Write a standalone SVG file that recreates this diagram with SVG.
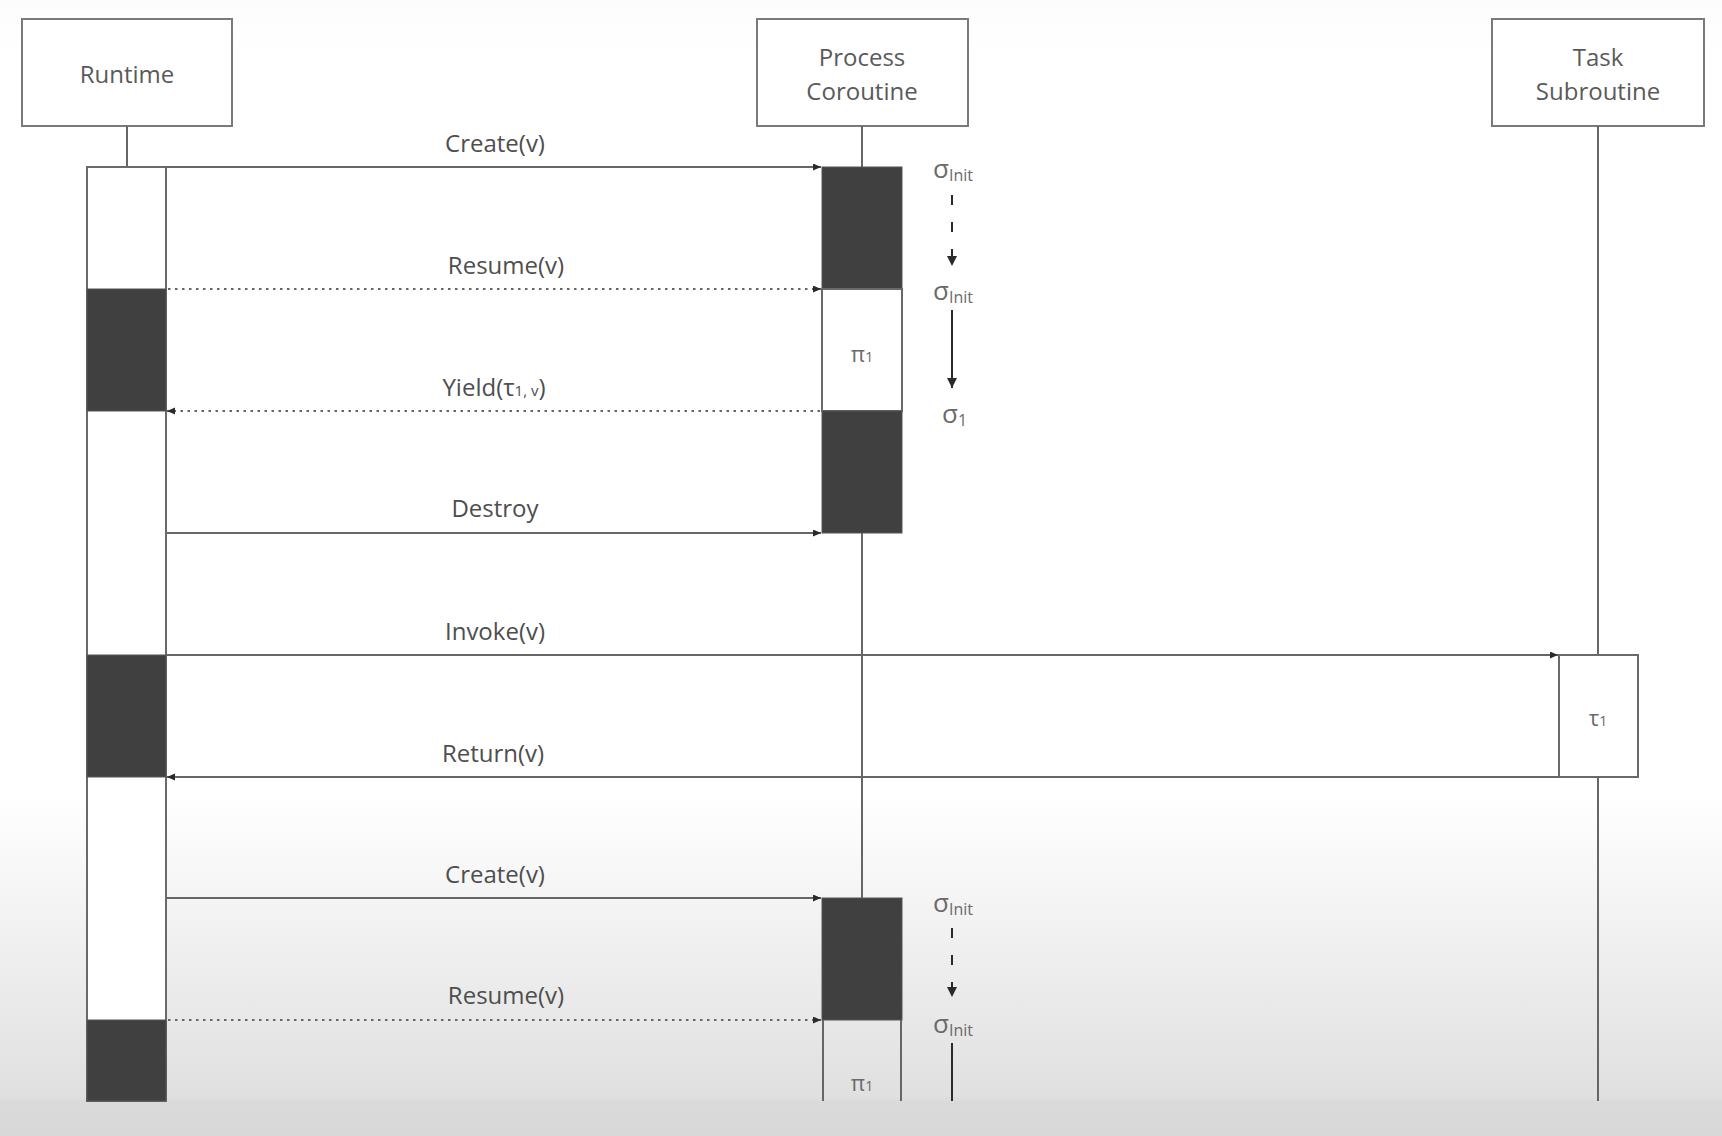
<svg xmlns="http://www.w3.org/2000/svg" width="1722" height="1136" viewBox="0 0 1722 1136">
<defs>
<linearGradient id="bg" x1="0" y1="0" x2="0" y2="1136" gradientUnits="userSpaceOnUse">
<stop offset="0" stop-color="#fcfcfc"/>
<stop offset="0.05" stop-color="#ffffff"/>
<stop offset="0.7" stop-color="#ffffff"/>
<stop offset="0.965" stop-color="#e0e0e0"/>
<stop offset="0.97" stop-color="#dadada"/>
<stop offset="1" stop-color="#d8d8d8"/>
</linearGradient>
<marker id="ah" markerWidth="9" markerHeight="8" refX="8" refY="3.5" orient="auto" markerUnits="userSpaceOnUse">
<path d="M0,0 L8,3.5 L0,7 z" fill="#2a2a2a"/>
</marker>
<marker id="ahs" markerWidth="12" markerHeight="10" refX="10" refY="5" orient="auto" markerUnits="userSpaceOnUse">
<path d="M0,0 L10,5 L0,10 z" fill="#2a2a2a"/>
</marker>
</defs>
<style>
.box{fill:#ffffff;stroke:#7a7a7a;stroke-width:2}
.life{stroke:#666;stroke-width:2;fill:none}
.act{fill:#ffffff;stroke:#6a6a6a;stroke-width:2}
.blk{fill:#404040;stroke:#555;stroke-width:1}
.hdr{font-family:"Open Sans","Noto Sans",sans-serif;font-size:24px;fill:#5a5a5a;text-anchor:middle}
.lbl{font-family:"Open Sans","Noto Sans",sans-serif;font-size:24px;fill:#4e4e4e;text-anchor:middle}
.sym{font-family:"Open Sans","Noto Sans",sans-serif;font-size:26px;fill:#6a6a6a}
.msg{stroke:#666;stroke-width:2;fill:none}
.dot{stroke:#666;stroke-width:2.2;fill:none;stroke-dasharray:2.5 4.5}
.st{stroke:#2a2a2a;stroke-width:2;fill:none}
</style>
<rect x="0" y="0" width="1722" height="1136" fill="url(#bg)"/>

<g id="runtime">
<rect class="box" x="22" y="19" width="210" height="107"/>
<text class="hdr" x="127" y="83">Runtime</text>
<line class="life" x1="127" y1="126" x2="127" y2="167"/>
<rect class="act" x="87" y="167" width="79" height="934"/>
<rect class="blk" x="87" y="289" width="79" height="122"/>
<rect class="blk" x="87" y="655" width="79" height="122"/>
<rect class="blk" x="87" y="1020" width="79" height="81"/>
</g>

<g id="process">
<rect class="box" x="757" y="19" width="211" height="107"/>
<text class="hdr" x="862" y="66">Process</text>
<text class="hdr" x="862" y="100">Coroutine</text>
<line class="life" x1="862" y1="126" x2="862" y2="167"/>
<rect class="blk" x="822" y="167" width="80" height="122"/>
<rect class="act" x="822" y="289" width="80" height="122"/>
<text class="sym" x="862" y="362" text-anchor="middle" style="font-size:22px">π<tspan style="font-size:14px">1</tspan></text>
<rect class="blk" x="822" y="411" width="80" height="122"/>
<line class="life" x1="862" y1="533" x2="862" y2="898"/>
<rect class="blk" x="822" y="898" width="80" height="122"/>
<line class="life" x1="823" y1="1020" x2="823" y2="1101"/>
<line class="life" x1="901" y1="1020" x2="901" y2="1101"/>
<text class="sym" x="862" y="1091" text-anchor="middle" style="font-size:22px">π<tspan style="font-size:14px">1</tspan></text>
</g>

<g id="task">
<rect class="box" x="1492" y="19" width="212" height="107"/>
<text class="hdr" x="1598" y="66">Task</text>
<text class="hdr" x="1598" y="100">Subroutine</text>
<line class="life" x1="1598" y1="126" x2="1598" y2="655"/>
<rect class="act" x="1559" y="655" width="79" height="122"/>
<text class="sym" x="1598" y="726" text-anchor="middle" style="font-size:22px">τ<tspan style="font-size:14px">1</tspan></text>
<line class="life" x1="1598" y1="777" x2="1598" y2="1101"/>
</g>

<g id="states">
<text class="sym" x="933" y="178">σ<tspan style="font-size:16px" dy="3">Init</tspan></text>
<line class="st" x1="952" y1="195" x2="952" y2="266" style="stroke-dasharray:10 17" marker-end="url(#ahs)"/>
<text class="sym" x="933" y="300">σ<tspan style="font-size:16px" dy="3">Init</tspan></text>
<line class="st" x1="952" y1="310" x2="952" y2="388" marker-end="url(#ahs)"/>
<text class="sym" x="942" y="423">σ<tspan style="font-size:16px" dy="3">1</tspan></text>
<text class="sym" x="933" y="912">σ<tspan style="font-size:16px" dy="3">Init</tspan></text>
<line class="st" x1="952" y1="928" x2="952" y2="997" style="stroke-dasharray:10 17" marker-end="url(#ahs)"/>
<text class="sym" x="933" y="1033">σ<tspan style="font-size:16px" dy="3">Init</tspan></text>
<line class="st" x1="952" y1="1043" x2="952" y2="1101"/>
</g>

<g id="connectors">
<line class="msg" x1="166" y1="167" x2="821" y2="167" marker-end="url(#ah)"/>
<text class="lbl" x="495" y="152">Create(v)</text>
<line class="dot" x1="168" y1="289" x2="821" y2="289" marker-end="url(#ah)"/>
<text class="lbl" x="506" y="274">Resume(v)</text>
<line class="dot" x1="820" y1="411" x2="167" y2="411" marker-end="url(#ah)"/>
<text class="lbl" x="494" y="396">Yield(τ<tspan style="font-size:15px">1, v</tspan>)</text>
<line class="msg" x1="166" y1="533" x2="821" y2="533" marker-end="url(#ah)"/>
<text class="lbl" x="495" y="517">Destroy</text>
<line class="msg" x1="166" y1="655" x2="1558" y2="655" marker-end="url(#ah)"/>
<text class="lbl" x="495" y="640">Invoke(v)</text>
<line class="msg" x1="1559" y1="777" x2="167" y2="777" marker-end="url(#ah)"/>
<text class="lbl" x="493" y="762">Return(v)</text>
<line class="msg" x1="166" y1="898" x2="821" y2="898" marker-end="url(#ah)"/>
<text class="lbl" x="495" y="883">Create(v)</text>
<line class="dot" x1="168" y1="1020" x2="821" y2="1020" marker-end="url(#ah)"/>
<text class="lbl" x="506" y="1004">Resume(v)</text>
</g>
</svg>
